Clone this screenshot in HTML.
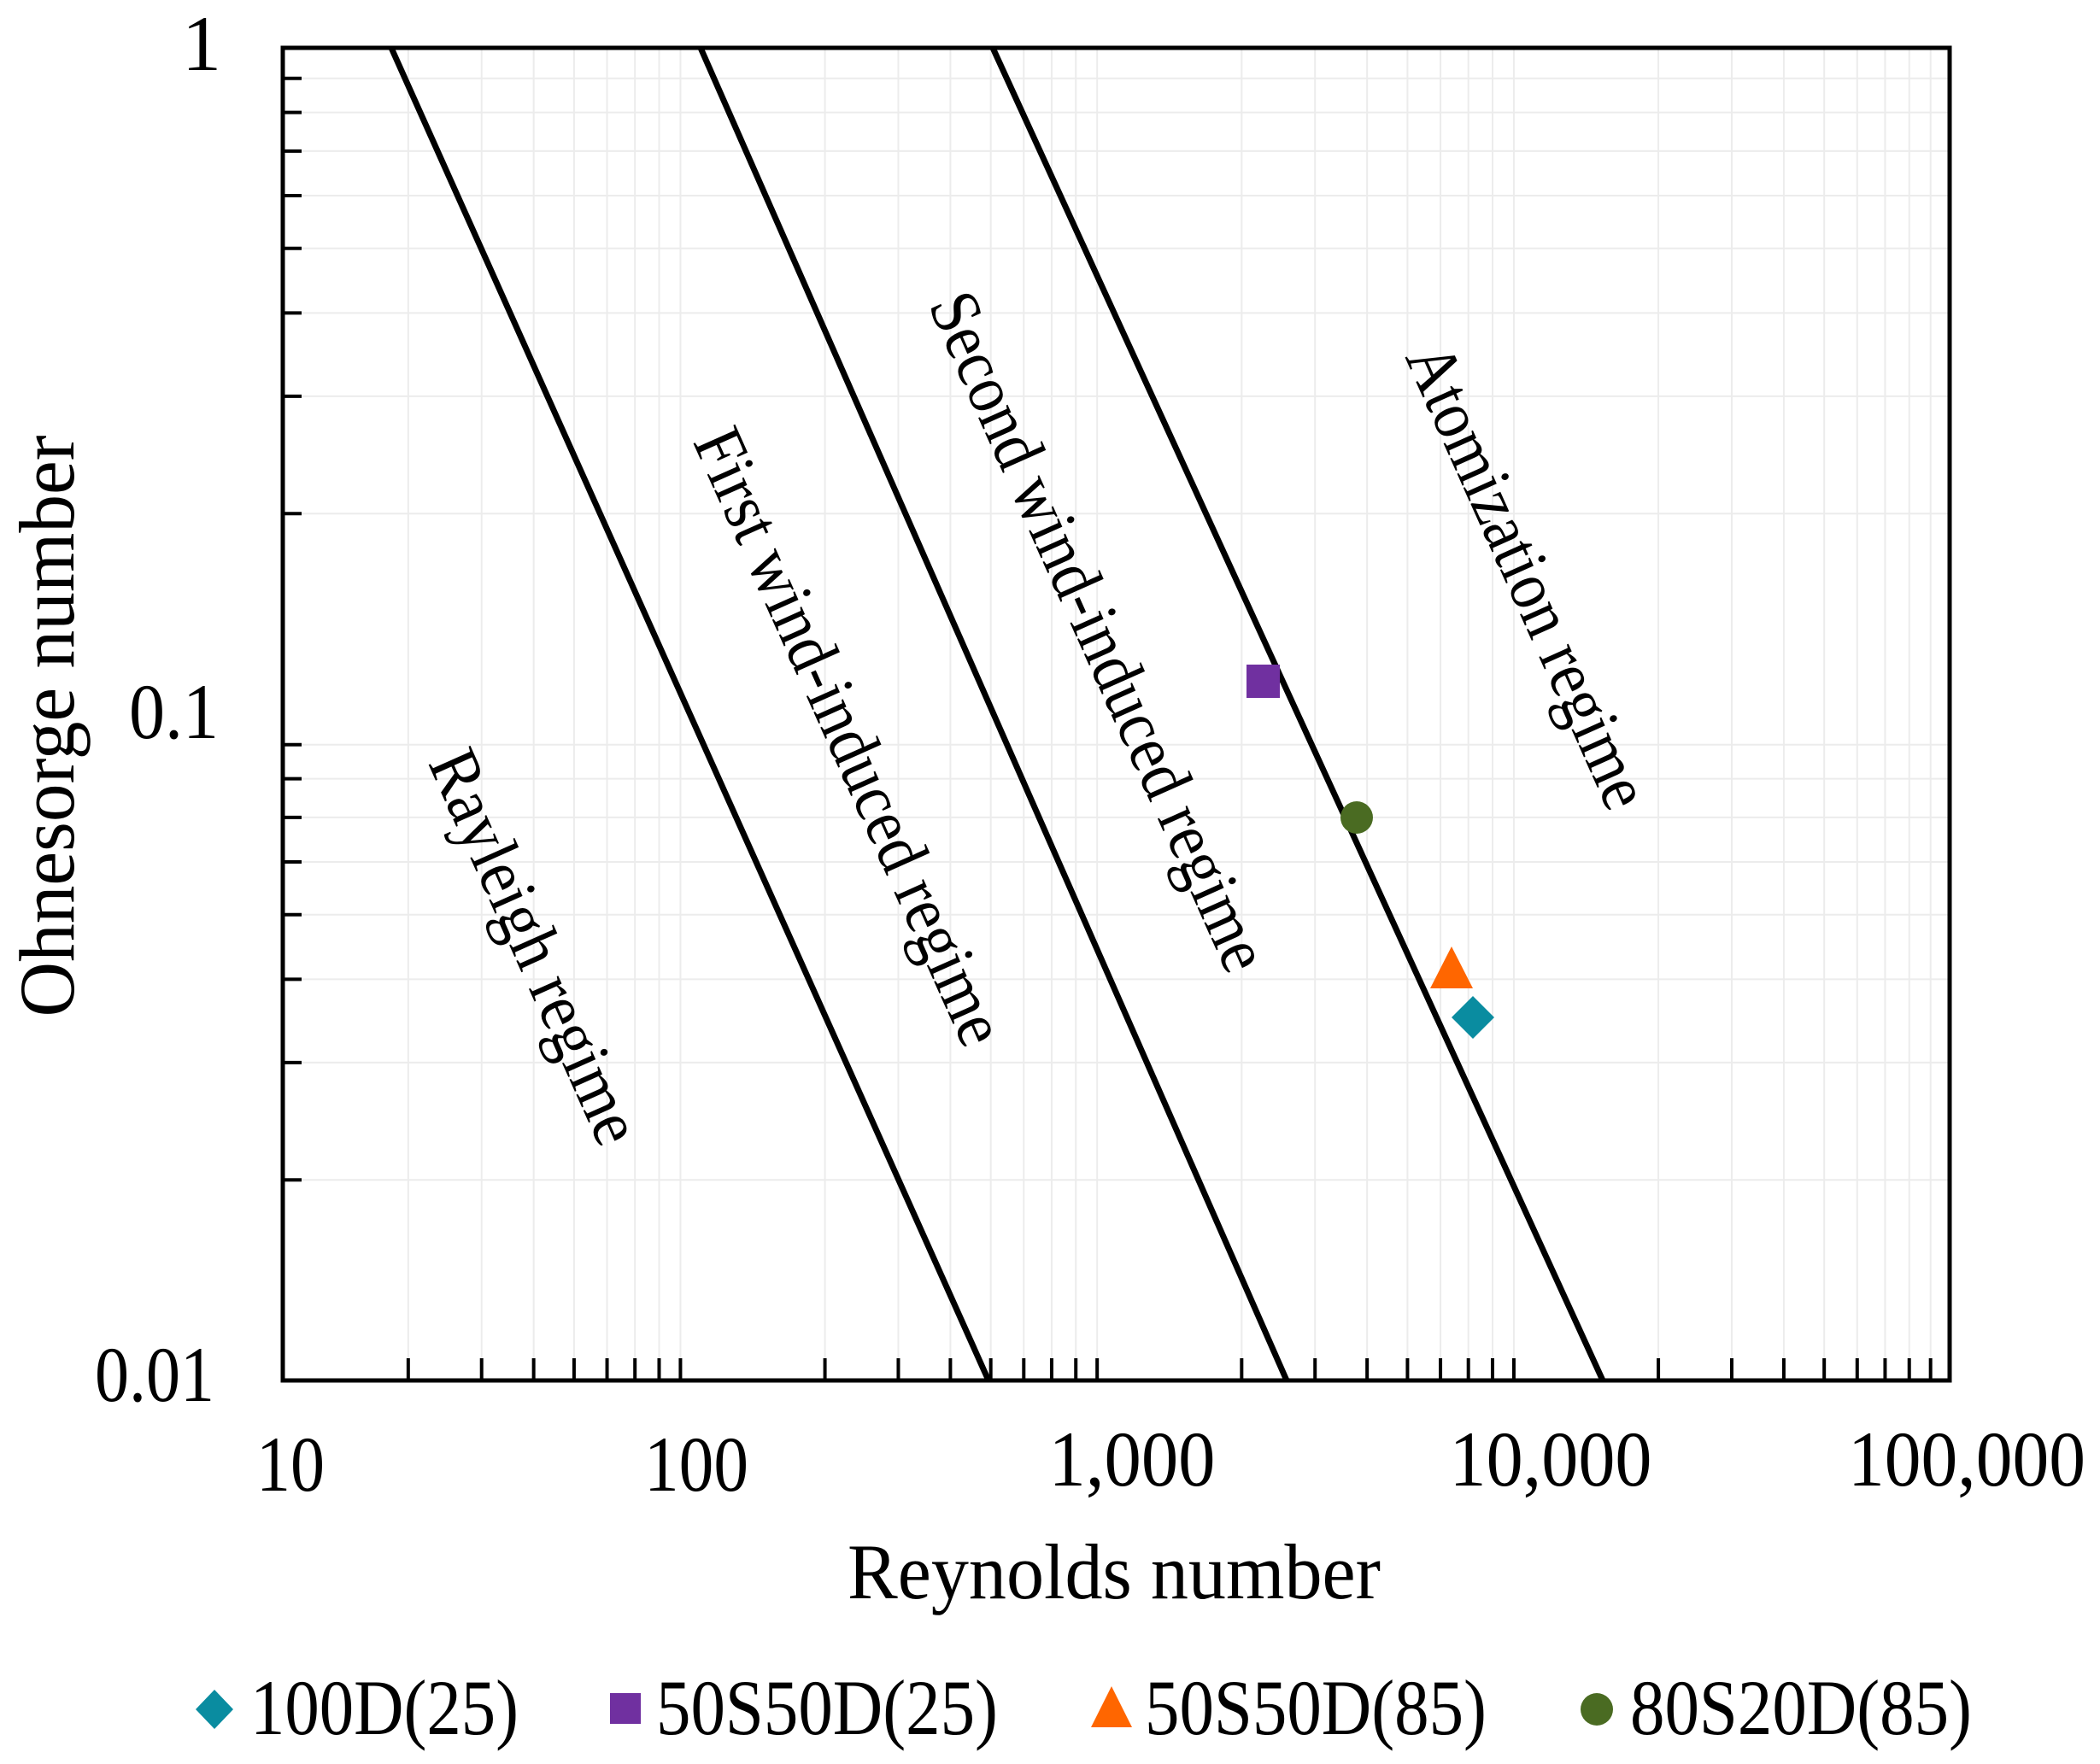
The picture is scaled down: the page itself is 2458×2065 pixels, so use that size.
<!DOCTYPE html>
<html><head><meta charset="utf-8"><style>html,body{margin:0;padding:0;background:#fff}svg{display:block}</style></head>
<body>
<svg xmlns="http://www.w3.org/2000/svg" width="2458" height="2065" viewBox="0 0 2458 2065" font-family="'Liberation Serif', serif">
<rect width="2458" height="2065" fill="#fff"/>
<g id="grid" stroke="#ececec" stroke-width="2"></g>
<g id="ticks" stroke="#000" stroke-width="4"></g>
<rect x="331" y="56" width="1951" height="1560" fill="none" stroke="#000" stroke-width="5"/>
<g stroke="#000" stroke-width="7">
<line x1="458" y1="56" x2="1157" y2="1616"/>
<line x1="820" y1="56" x2="1506" y2="1616"/>
<line x1="1162" y1="56" x2="1876" y2="1616"/>
</g>
<rect x="1459" y="778" width="39" height="39" fill="#7030a0"/>
<circle cx="1588" cy="957" r="19" fill="#4a6b22"/>
<polygon points="1699,1108 1674,1157 1724,1157" fill="#ff6600"/>
<polygon points="1724,1166 1749,1191 1724,1216 1699,1191" fill="#0a8ca0"/>
<g font-size="92" fill="#000">
<text x="259" y="82" text-anchor="end">1</text>
<text x="256" y="864" text-anchor="end" textLength="105" lengthAdjust="spacingAndGlyphs">0.1</text>
<text x="251" y="1640" text-anchor="end" textLength="140" lengthAdjust="spacingAndGlyphs">0.01</text>
<text x="340" y="1745" text-anchor="middle" textLength="80" lengthAdjust="spacingAndGlyphs">10</text>
<text x="815" y="1745" text-anchor="middle" textLength="122" lengthAdjust="spacingAndGlyphs">100</text>
<text x="1325" y="1739" text-anchor="middle" textLength="195" lengthAdjust="spacingAndGlyphs">1,000</text>
<text x="1815" y="1739" text-anchor="middle" textLength="237" lengthAdjust="spacingAndGlyphs">10,000</text>
<text x="2302" y="1739" text-anchor="middle" textLength="278" lengthAdjust="spacingAndGlyphs">100,000</text>
<text x="1304" y="1871" text-anchor="middle" textLength="624" lengthAdjust="spacingAndGlyphs">Reynolds  number</text>
<text transform="translate(86,850) rotate(-90)" text-anchor="middle" textLength="681" lengthAdjust="spacingAndGlyphs">Ohnesorge  number</text>
</g>
<g font-size="82" fill="#000" text-anchor="middle" dominant-baseline="central">
<text transform="translate(627,1108) rotate(65.9)" textLength="496" lengthAdjust="spacingAndGlyphs">Rayleigh regime</text>
<text transform="translate(995,862) rotate(65.9)" textLength="781" lengthAdjust="spacingAndGlyphs">First wind-induced regime</text>
<text transform="translate(1287,739) rotate(65.9)" textLength="861" lengthAdjust="spacingAndGlyphs">Second wind-induced regime</text>
<text transform="translate(1789,674) rotate(65.9)" textLength="586" lengthAdjust="spacingAndGlyphs">Atomization regime</text>
</g>
<polygon points="251,1978 273,2001 251,2024 229,2001" fill="#0a8ca0"/>
<rect x="714" y="1982" width="36" height="36" fill="#7030a0"/>
<polygon points="1301,1974 1277,2022 1325,2022" fill="#ff6600"/>
<circle cx="1869" cy="2001" r="19" fill="#4a6b22"/>
<g font-size="92" fill="#000">
<text x="293" y="2030" textLength="314" lengthAdjust="spacingAndGlyphs">100D(25)</text>
<text x="768" y="2030" textLength="400" lengthAdjust="spacingAndGlyphs">50S50D(25)</text>
<text x="1340" y="2030" textLength="400" lengthAdjust="spacingAndGlyphs">50S50D(85)</text>
<text x="1908" y="2030" textLength="400" lengthAdjust="spacingAndGlyphs">80S20D(85)</text>
</g>
</svg>
<script>
(function(){
var ns="http://www.w3.org/2000/svg",g=document.getElementById("grid"),t=document.getElementById("ticks");
function ln(p,a,b,c,d){var l=document.createElementNS(ns,"line");l.setAttribute("x1",a);l.setAttribute("y1",b);l.setAttribute("x2",c);l.setAttribute("y2",d);p.appendChild(l);}
var L=331,R=2282,T=56,B=1616,dx=(R-L)/4,dy=(B-T)/2;
for(var d=0;d<4;d++)for(var k=2;k<=9;k++){var x=L+dx*(d+Math.log10(k));ln(g,x,T,x,B);ln(t,x,B,x,B-26);}
for(var d=0;d<2;d++)for(var k=2;k<=9;k++){var y=B-dy*(d+Math.log10(k));ln(g,L,y,R,y);ln(t,L,y,L+22,y);}
})();
</script>
</body></html>
